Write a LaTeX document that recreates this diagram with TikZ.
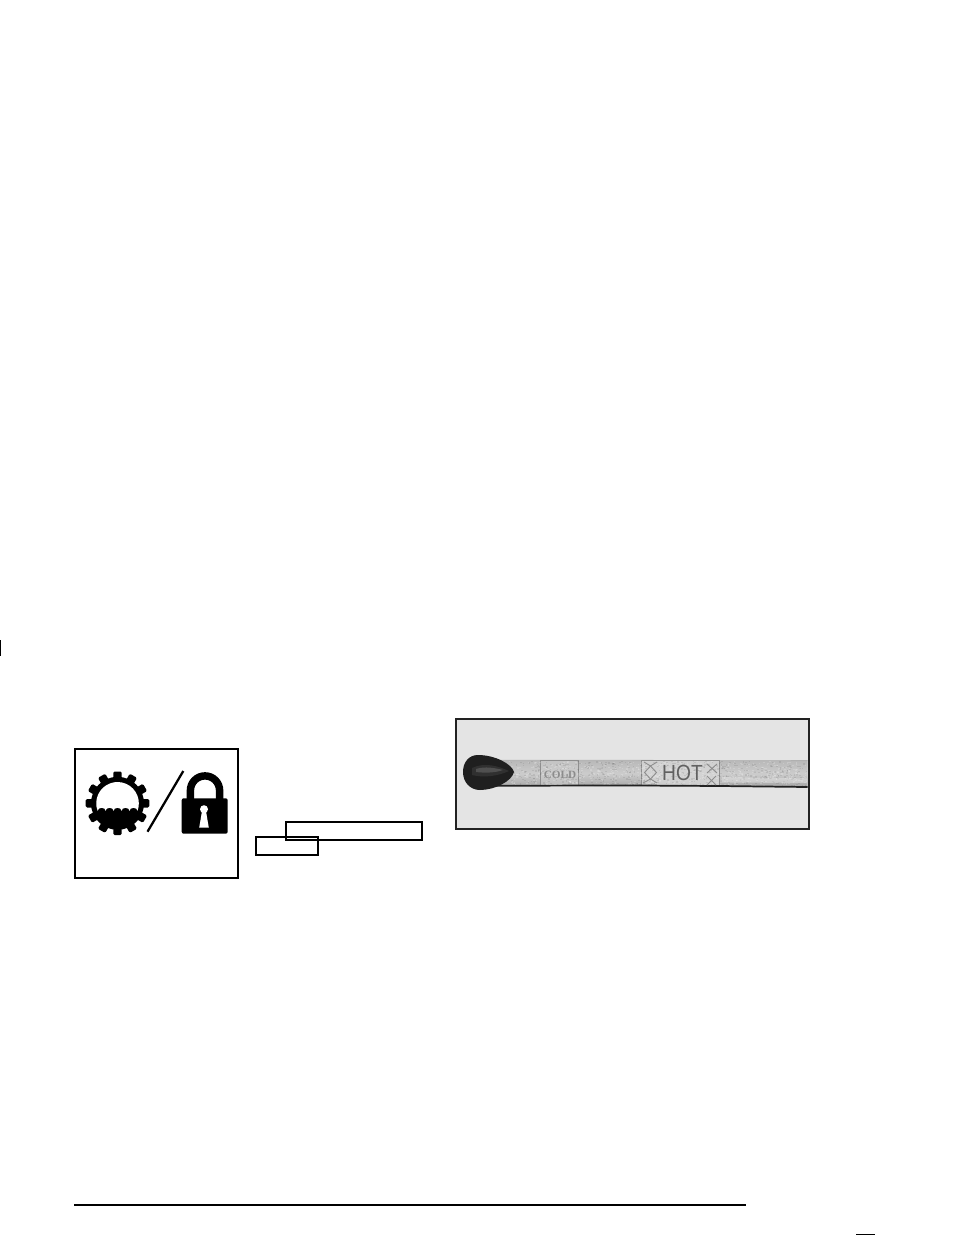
\documentclass[tikz,border=0pt]{standalone}
\usepackage{fontspec}
\setmainfont{Liberation Sans}
\newfontfamily\serifb{Liberation Serif}
\usetikzlibrary{calc}
\definecolor{photobg}{HTML}{E4E4E4}
\definecolor{framec}{HTML}{222222}
\definecolor{stickmid}{HTML}{B8B8B8}
\definecolor{sticklight}{HTML}{CCCCCC}
\definecolor{stickdark}{HTML}{8E8E8E}
\tikzset{
  boxline/.style={draw=black,line width=1.5pt,fill=none},
  ruleline/.style={draw=black,line width=1.4pt},
  bandline/.style={draw=stickdark,line width=0.6pt},
  tooth/.style={fill=black,rounded corners=1pt},
  stampmark/.style={draw=stickdark,line width=0.7pt}
}
\begin{document}
\begin{tikzpicture}[x=0.75pt,y=-0.75pt]
\useasboundingbox (0,0) rectangle (954,1235);
\fill[white] (0,0) rectangle (954,1235);
% margin mark
\coordinate (mA) at (0.7,640); \coordinate (mB) at (0.7,656);
\draw[line width=1.1pt,draw=black] (mA) -- (mB);
% icon frame
\node[draw=black,line width=1.4pt,minimum width=122pt,minimum height=97pt,inner sep=0pt] (iconframe) at (156.4,813.4) {};
% gear
\coordinate (gc) at (117.5,803.3);
\fill[black] (gc) circle[radius=26.5];
\foreach \a in {0,30,...,330}{
  \fill[tooth,shift={(gc)},rotate=\a] (-4.2,-31.8) rectangle (4.2,-20);
}
\fill[white] ($(gc)+(-19.9,7.5)$) arc[start angle=159.4,end angle=380.6,radius=21.3]
  arc[start angle=0,end angle=-180,x radius=3.98,y radius=3]
  arc[start angle=0,end angle=-180,x radius=3.98,y radius=3]
  arc[start angle=0,end angle=-180,x radius=3.98,y radius=3]
  arc[start angle=0,end angle=-180,x radius=3.98,y radius=3]
  arc[start angle=0,end angle=-180,x radius=3.98,y radius=3]
  -- cycle;
% slash
\coordinate (sA) at (183.3,771); \coordinate (sB) at (147.5,831.7);
\draw[line width=1.7pt,draw=black] (sA) -- (sB);
% lock
\draw[line width=5.6pt,draw=black] (190.4,800) -- (190.4,790.5) arc[start angle=180,end angle=360,radius=14.6] -- (219.6,800);
\fill[black,rounded corners=1.5pt] (181.7,798.3) rectangle (227.7,833.7);
\fill[white] (204,809.2) circle[radius=4];
\fill[white] (202.2,810) -- (205.8,810) -- (208.8,827.7) -- (199.2,827.7) -- cycle;
% photo
\node[draw=framec,fill=photobg,line width=1.5pt,minimum width=265pt,minimum height=82pt,inner sep=0pt] (photo) at (632.5,774) {};
% stick
\path[top color=stickmid,bottom color=stickmid!90!black,middle color=sticklight]
  (490,760) -- (807.5,760.5) -- (807.5,787) -- (490,785.5) -- cycle;
\draw[line width=0.4pt,draw=stickdark!70!white] (490,760) -- (807.5,760.5);
% cold and hot bands
\node[bandline,fill=sticklight,fill opacity=0.6,minimum width=29pt,minimum height=18.8pt,inner sep=0pt] (coldband) at (559.5,773) {};
\node[bandline,fill=sticklight!80!white,fill opacity=0.8,minimum width=58pt,minimum height=19.2pt,inner sep=0pt] (hotband) at (680.5,773) {};
% speckle
\begin{scope}
\clip (490,761) -- (807,761) -- (807,786) -- (490,785) -- cycle;
\pgfmathsetseed{4217}
\foreach \i in {1,...,1100}{
  \pgfmathsetmacro{\px}{505+rnd*303}
  \pgfmathsetmacro{\py}{761+rnd*25}
  \pgfmathsetmacro{\shadev}{rnd>0.5 ? 1 : 0}
  \ifdim\shadev pt>0.5pt
    \fill[white,opacity=0.18] (\px,\py) rectangle ++(1.6,1.2);
  \else
    \fill[black,opacity=0.08] (\px,\py) rectangle ++(1.6,1.2);
  \fi
}
\fill[white,opacity=0.3] (722,777) -- (807.5,778.5) -- (807.5,783) -- (722,782.5) -- cycle;
\end{scope}
\draw[line width=1.3pt,draw=framec] (495,785.7) -- (640,785.5) -- (720,786) -- (807.5,787);
\node[text=black!45,font=\serifb\bfseries\fontsize{8.4pt}{9pt}\selectfont,inner sep=0pt] (coldtext) at (560,774.8) {COLD};
\node[text=black!62,font=\fontsize{14.4pt}{15pt}\selectfont,inner sep=0pt,yscale=1.14] (hottext) at (682.5,772.8) {HOT};
\draw[stampmark] (650.5,766) -- (656.5,772.5) -- (650.5,779) -- (644.5,772.5) -- cycle;
\draw[stampmark] (644,762) -- (650.5,766) (657,762) -- (650.5,766) (643,783) -- (650.5,779) (657,783) -- (650.5,779);
\draw[stampmark] (707,764) -- (717,773) (717,764) -- (707,773) (707,776) -- (716,785) (716,776) -- (707,785);
% knob
\path[fill=black!88] (514,772) .. controls (512,764) and (495,755) .. (478,755)
  .. controls (469,755) and (463,762) .. (463,772)
  .. controls (463,782) and (470,790) .. (480,790)
  .. controls (495,790) and (512,781) .. (514,772) -- cycle;
\fill[black!60,opacity=.25] (472,768) .. controls (485,762) and (498,766) .. (509,771) .. controls (498,776) and (484,778) .. (472,775) -- cycle;
\fill[black!45,opacity=.35] (476,769) .. controls (485,766) and (495,768) .. (503,770) .. controls (495,773) and (484,773) .. (476,772) -- cycle;
% empty rectangles
\node[boxline,minimum width=102pt,minimum height=13.2pt,inner sep=0pt] (boxA) at (353.5,830.8) {};
\node[boxline,minimum width=46pt,minimum height=13.6pt,inner sep=0pt] (boxB) at (286.9,846.3) {};
% rules
\coordinate (rA) at (74,1205); \coordinate (rB) at (746,1205);
\draw[ruleline] (rA) -- (rB);
\coordinate (tA) at (856,1234.4); \coordinate (tB) at (875,1234.4);
\draw[line width=0.9pt,draw=black] (tA) -- (tB);
\end{tikzpicture}
\end{document}
